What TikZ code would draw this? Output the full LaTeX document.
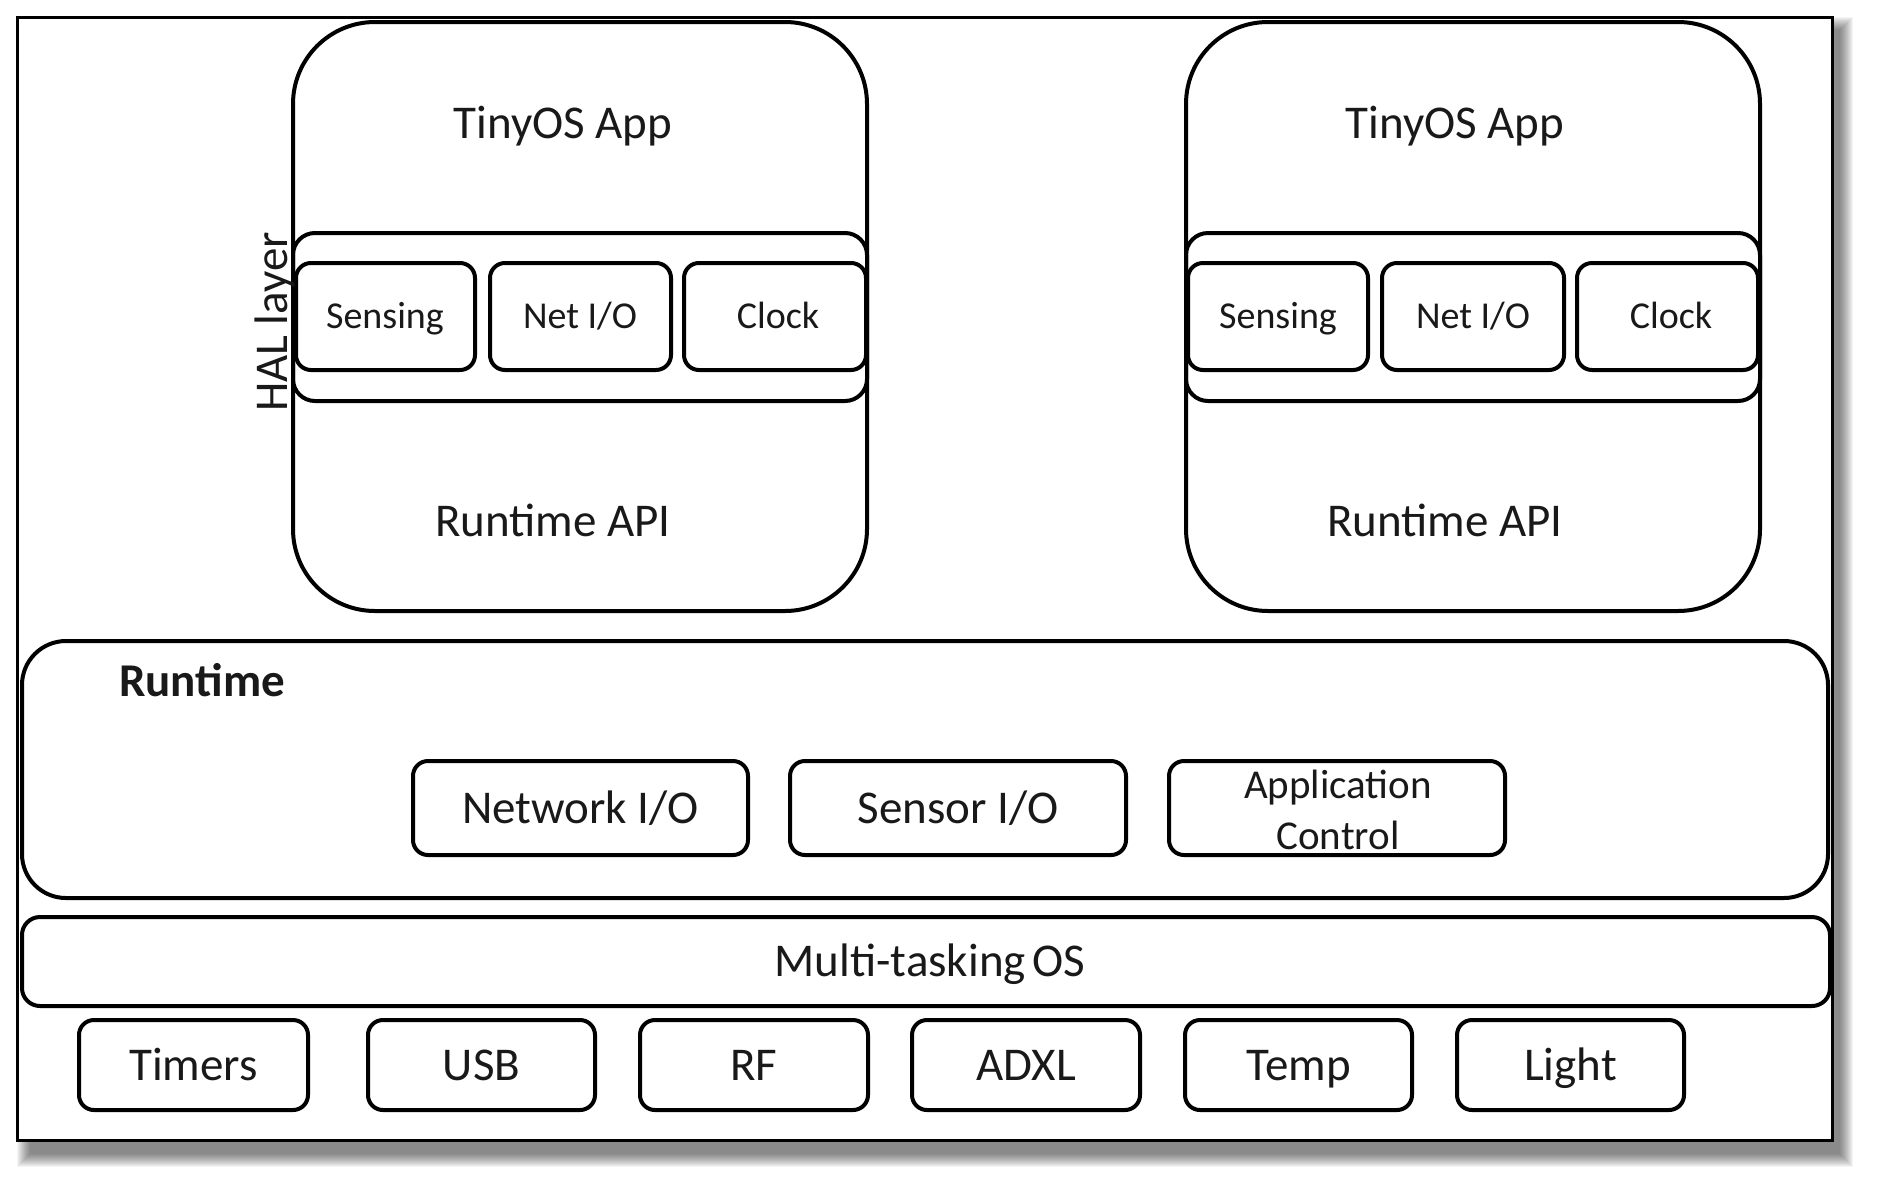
\documentclass[tikz,border=0pt]{standalone}
\usepackage{fontspec}
\setmainfont{Carlito}
\begin{document}
\begin{tikzpicture}[x=1pt,y=-1pt,
  every node/.style={inner sep=0pt,outer sep=0pt,text=black!90},
  bx/.style={draw=black,line width=4pt,rounded corners=#1},
  bx/.default=15pt,
  bigtxt/.style={font=\fontsize{47}{56}\selectfont,text height=30.3pt,text depth=0pt},
  smtxt/.style={font=\fontsize{38}{46}\selectfont,text height=24.5pt,text depth=0pt}]
\useasboundingbox (0,0) rectangle (1886,1192);
% shadow of the frame
\foreach \i in {0,...,13}{
  \fill[black,opacity=0.045] (30-\i,30-\i) rectangle (1840+\i,1154+\i);
}
\node[draw=black,fill=white,line width=3pt,minimum width=1815pt,minimum height=1123pt] (frame) at (924.5,578.5) {};

% App 1
\node[bx=82pt,minimum width=574pt,minimum height=589pt] (app1) at (580,316.5) {};
\node[bx=22pt,minimum width=574pt,minimum height=168pt] (hal1) at (580,317) {};
\node[bx,minimum width=179pt,minimum height=107pt] (sen1) at (385.5,316.5) {};
\node[bx,minimum width=181pt,minimum height=107pt] (net1) at (580.5,316.5) {};
\node[bx,minimum width=182pt,minimum height=107pt] (clk1) at (775,316.5) {};
\node[smtxt] (sen1t) at (385,316.5) {Sensing};
\node[smtxt] (net1t) at (580,316.5) {Net I/O};
\node[smtxt] (clk1t) at (778,316.5) {Clock};
\node[bigtxt] (app1t) at (563,123) {TinyOS App};
\node[bigtxt] (api1t) at (553,521) {Runtime API};
\node[bigtxt,rotate=90] (halt) at (272,322) {HAL layer};

% App 2
\node[bx=82pt,minimum width=574pt,minimum height=589pt] (app2) at (1473,316.5) {};
\node[bx=22pt,minimum width=574pt,minimum height=168pt] (hal2) at (1473,317) {};
\node[bx,minimum width=180pt,minimum height=107pt] (sen2) at (1278,316.5) {};
\node[bx,minimum width=182pt,minimum height=107pt] (net2) at (1473,316.5) {};
\node[bx,minimum width=181pt,minimum height=107pt] (clk2) at (1667.5,316.5) {};
\node[smtxt] (sen2t) at (1278,316.5) {Sensing};
\node[smtxt] (net2t) at (1473,316.5) {Net I/O};
\node[smtxt] (clk2t) at (1671,316.5) {Clock};
\node[bigtxt] (app2t) at (1455,123) {TinyOS App};
\node[bigtxt] (api2t) at (1445,521) {Runtime API};

% Runtime
\node[bx=44pt,minimum width=1806pt,minimum height=257pt] (rt) at (925,769.5) {};
\node[bigtxt,font=\fontsize{47}{56}\selectfont\bfseries,anchor=west] (rtt) at (119,681) {Runtime};
\node[bx,bigtxt,minimum width=335pt,minimum height=94pt] (nio) at (580.5,808) {Network I/O};
\node[bx,bigtxt,minimum width=336pt,minimum height=94pt] (sio) at (958,808) {Sensor I/O};
\node[bx,minimum width=336pt,minimum height=94pt] (ac) at (1337,808) {};
\node[font=\fontsize{41}{51}\selectfont,align=center] (act) at (1338,810) {Application\\Control};

% Multi-tasking OS
\node[bx=18pt,minimum width=1808pt,minimum height=89pt] (os) at (926,961.5) {};
\node[bigtxt] (ost) at (930,961.5) {Multi-tasking\hspace{-4pt} OS};

% Hardware
\node[bx,bigtxt,minimum width=229pt,minimum height=90pt] (tim) at (193.5,1065) {Timers};
\node[bx,bigtxt,minimum width=227pt,minimum height=90pt] (usb) at (481.5,1065) {USB};
\node[bx,bigtxt,minimum width=228pt,minimum height=90pt] (rf) at (754,1065) {RF};
\node[bx,bigtxt,minimum width=228pt,minimum height=90pt] (adxl) at (1026,1065) {ADXL};
\node[bx,bigtxt,minimum width=227pt,minimum height=90pt] (temp) at (1298.5,1065) {Temp};
\node[bx,bigtxt,minimum width=227pt,minimum height=90pt] (light) at (1570.5,1065) {Light};
\end{tikzpicture}
\end{document}
